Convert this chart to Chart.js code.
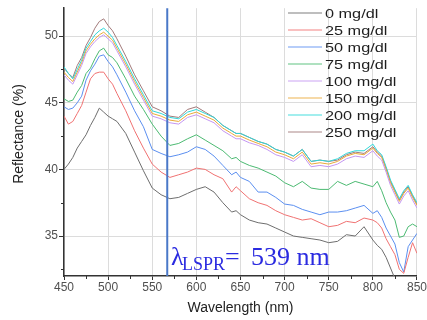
<!DOCTYPE html>
<html>
<head>
<meta charset="utf-8">
<script src="https://cdn.jsdelivr.net/npm/chart.js@4"></script>
<style>
  html, body { margin: 0; padding: 0; background: #fff; }
  #wrap { width: 427px; height: 320px; }
</style>
</head>
<body>
<div id="wrap"><canvas id="chart" width="427" height="320"></canvas></div>
<script>
// Reflectance spectra for different glucose concentrations

// ---- data ----
const wavelengths = [450, 455, 460, 465, 470, 475, 480, 485, 490, 495, 500, 505, 510,
    520, 530, 540, 550, 560, 570, 580, 590, 600, 610, 620, 630, 640,
    645, 650, 660, 670, 680, 690, 700, 710, 720, 730, 740, 750, 760, 770, 780, 790, 800,
    805, 810, 815, 820, 825, 830, 835, 840, 845, 850];

const labels = ['0 mg/dl', '25 mg/dl', '50 mg/dl', '75 mg/dl', '100 mg/dl', '150 mg/dl', '200 mg/dl', '250 mg/dl'];

const r0 = [40.0, 40.4, 40.9, 41.6, 42.1, 42.6, 43.3, 43.9, 44.6, 44.3, 44.0, 43.8, 43.6,
    42.7, 41.3, 39.9, 38.6, 38.1, 37.8, 37.9, 38.2, 38.5, 38.7, 38.3, 37.5, 36.8,
    36.9, 36.6, 36.2, 36.0, 35.9, 35.6, 35.3, 35.0, 34.9, 34.8, 34.7, 34.5, 34.6, 35.1, 35.0, 35.7, 34.7,
    34.3, 34.0, 33.4, 32.6, 31.8, 31.2, 31.0, 31.0, 31.0, 31.0];
const r25 = [44.0, 43.4, 43.6, 44.2, 44.8, 45.8, 46.8, 47.2, 47.3, 47.3, 46.8, 46.4, 45.7,
    44.4, 42.9, 41.6, 40.4, 39.8, 39.4, 39.6, 39.8, 40.1, 40.0, 39.6, 39.3, 38.3,
    38.7, 38.4, 37.8, 37.5, 37.3, 36.9, 36.6, 36.4, 36.2, 36.3, 36.0, 35.7, 35.8, 36.1, 36.0, 36.35, 36.2,
    36.0, 35.6, 34.8, 34.2, 33.6, 32.5, 32.2, 33.4, 34.5, 33.7];
const r50 = [44.7, 44.5, 44.6, 45.0, 45.5, 46.7, 47.4, 47.9, 48.5, 48.6, 48.1, 47.7, 47.1,
    45.8, 44.4, 43.2, 41.5, 41.2, 40.95, 41.1, 41.3, 41.7, 41.5, 41.0, 40.3, 39.6,
    39.8, 39.4, 39.1, 38.3, 38.3, 37.9, 37.4, 37.3, 37.0, 36.8, 36.6, 36.8, 36.8, 36.9, 37.1, 37.3, 36.7,
    36.9, 36.4, 35.6, 35.0, 34.4, 33.0, 32.3, 34.2, 34.7, 35.2];
const r75 = [45.3, 45.1, 45.2, 45.8, 46.3, 47.2, 47.6, 48.3, 48.9, 49.1, 48.6, 48.4, 48.0,
    46.8, 45.5, 44.5, 43.4, 42.5, 41.8, 41.95, 42.3, 42.6, 42.2, 41.8, 41.4, 40.8,
    40.9, 40.6, 40.3, 40.1, 39.8, 39.5, 39.0, 38.7, 39.1, 38.6, 38.5, 38.5, 39.1, 38.8, 39.1, 38.9, 38.7,
    39.1, 38.4, 37.5, 36.8, 36.2, 34.9, 35.0, 35.7, 35.9, 35.7];
const r100 = [47.1, 46.7, 46.4, 47.1, 47.8, 48.7, 49.2, 49.6, 49.9, 50.1, 49.8, 49.5, 48.9,
    47.7, 46.4, 45.2, 44.0, 43.8, 43.5, 43.4, 43.9, 44.1, 43.8, 43.5, 42.9, 42.5,
    42.3, 42.3, 42.0, 41.8, 41.5, 41.1, 40.9, 40.6, 41.1, 40.2, 40.3, 40.2, 40.4, 40.8, 41.0, 40.9, 41.4,
    41.0, 40.7, 39.8, 38.8, 38.1, 37.4, 38.0, 38.4, 37.7, 37.1];
const r150 = [47.3, 46.9, 46.6, 47.3, 48.0, 48.9, 49.4, 49.8, 50.1, 50.3, 50.0, 49.7, 49.1,
    47.9, 46.6, 45.4, 44.2, 44.0, 43.7, 43.6, 44.1, 44.3, 44.0, 43.7, 43.1, 42.7,
    42.5, 42.5, 42.2, 41.95, 41.7, 41.3, 41.1, 40.8, 41.3, 40.4, 40.5, 40.4, 40.6, 41.0, 41.2, 41.1, 41.6,
    41.2, 40.9, 40.0, 39.0, 38.3, 37.6, 38.2, 38.6, 37.9, 37.3];
const r200 = [47.7, 47.2, 46.8, 47.5, 48.2, 49.1, 49.6, 50.1, 50.4, 50.6, 50.3, 49.9, 49.3,
    48.1, 46.8, 45.6, 44.4, 44.2, 43.9, 43.8, 44.3, 44.5, 44.2, 43.9, 43.3, 42.9,
    42.7, 42.7, 42.4, 42.1, 41.9, 41.5, 41.3, 41.0, 41.5, 40.6, 40.7, 40.6, 40.8, 41.2, 41.4, 41.4, 41.9,
    41.4, 41.1, 40.2, 39.2, 38.5, 37.8, 38.4, 38.8, 38.1, 37.5];
const r250 = [47.6, 47.2, 46.9, 47.8, 48.4, 49.3, 49.9, 50.6, 51.1, 51.3, 50.8, 50.4, 49.8,
    48.5, 47.1, 45.9, 44.7, 44.4, 44.0, 43.9, 44.5, 44.7, 44.3, 43.9, 43.3, 42.9,
    42.7, 42.7, 42.4, 42.1, 41.9, 41.5, 41.3, 41.0, 41.5, 40.6, 40.7, 40.6, 40.7, 41.1, 41.3, 41.2, 41.7,
    41.3, 41.0, 40.1, 39.1, 38.4, 37.7, 38.3, 38.7, 38.0, 37.4];

const xTicks = [450, 500, 550, 600, 650, 700, 750, 800, 850];
const yTicks = [35, 40, 45, 50];
const lsprLine = 567;
const lsprValue = '539 nm';

const series = [r0, r25, r50, r75, r100, r150, r200, r250];
const lineColors = ['#6e6e6e', '#f07272', '#5b8ff0', '#4cba72', '#c497f2', '#e9aa3a', '#2fd8d8', '#a27a7a'];

// ---- helpers ----
function toPoints(values) {
    return wavelengths.map((w, i) => ({ x: w, y: values[i] }));
}

// overlay: LSPR line, minor ticks, annotation, y title and legend
const overlay = {
    id: 'overlay',
    afterDatasetsDraw(chart) {
        const ctx = chart.ctx;
        const xs = chart.scales.x, ys = chart.scales.y;
        const area = chart.chartArea;

        // vertical LSPR line
        const lx = xs.getPixelForValue(lsprLine);
        ctx.save();
        ctx.strokeStyle = '#4a78c8';
        ctx.lineWidth = 2;
        ctx.beginPath();
        ctx.moveTo(lx, area.top);
        ctx.lineTo(lx, area.bottom);
        ctx.stroke();

        // minor ticks
        ctx.strokeStyle = '#333';
        ctx.lineWidth = 1;
        ctx.beginPath();
        for (let v = 475; v < 850; v += 50) {
            const px = Math.round(xs.getPixelForValue(v)) + 0.5;
            ctx.moveTo(px, area.bottom);
            ctx.lineTo(px, area.bottom + 3);
        }
        for (let v = 32.5; v < 52; v += 5) {
            const py = Math.round(ys.getPixelForValue(v)) + 0.5;
            ctx.moveTo(area.left, py);
            ctx.lineTo(area.left - 3, py);
        }
        ctx.stroke();

        // annotation
        ctx.fillStyle = '#2b2be0';
        ctx.textBaseline = 'alphabetic';
        ctx.font = '26px "Liberation Serif", "DejaVu Serif", serif';
        ctx.fillText('λ', 171, 265);
        ctx.font = '18px "Liberation Serif", "DejaVu Serif", serif';
        ctx.fillText('LSPR', 182, 270);
        ctx.font = '26px "Liberation Serif", "DejaVu Serif", serif';
        ctx.fillText('=', 225, 265);
        ctx.fillText(lsprValue, 251, 265);

        // y axis title
        ctx.save();
        ctx.translate(19, 134);
        ctx.rotate(-Math.PI / 2);
        ctx.font = '14px "Liberation Sans", Arial, sans-serif';
        ctx.fillStyle = '#222';
        ctx.textAlign = 'center';
        ctx.textBaseline = 'middle';
        ctx.fillText('Reflectance (%)', 0, 0);
        ctx.restore();

        // legend
        ctx.textBaseline = 'middle';
        chart.data.datasets.forEach((ds, i) => {
            const y = 13 + i * 17;
            ctx.strokeStyle = ds.borderColor;
            ctx.globalAlpha = 0.6;
            ctx.lineWidth = 1.5;
            ctx.beginPath();
            ctx.moveTo(288, y);
            ctx.lineTo(322, y);
            ctx.stroke();
            ctx.globalAlpha = 1;
            ctx.save();
            ctx.translate(325, y + 1);
            ctx.scale(1.25, 1);
            ctx.font = '13px "Liberation Sans", Arial, sans-serif';
            ctx.fillStyle = '#1e1e1e';
            ctx.fillText(ds.label, 0, 0);
            ctx.restore();
        });
        ctx.restore();
    }
};

new Chart(document.getElementById('chart'), {
    type: 'line',
    data: {
        datasets: series.map((s, i) => ({
            label: labels[i],
            data: toPoints(s),
            borderColor: lineColors[i],
            borderWidth: 1,
            pointRadius: 0,
            tension: 0,
            fill: false
        }))
    },
    options: {
        responsive: false,
        animation: false,
        layout: { padding: { top: 8, right: 10, left: 0, bottom: 0 } },
        plugins: {
            legend: { display: false },
            tooltip: { enabled: false }
        },
        scales: {
            x: {
                type: 'linear',
                min: 450,
                max: 850,
                afterBuildTicks: s => { s.ticks = xTicks.map(v => ({ value: v })); },
                afterFit: s => { s.height = 44; },
                grid: { color: '#dcdcdc', tickColor: '#333', tickLength: 4 },
                border: { color: '#333', width: 1.5 },
                ticks: {
                    color: '#505050',
                    padding: 0,
                    maxRotation: 0,
                    font: { family: '"Liberation Sans", Arial, sans-serif', size: 12 }
                },
                title: {
                    display: true,
                    text: 'Wavelength (nm)',
                    color: '#222',
                    padding: { top: 0, bottom: 3 },
                    font: { family: '"Liberation Sans", Arial, sans-serif', size: 14 }
                }
            },
            y: {
                min: 32,
                max: 52.1,
                afterBuildTicks: s => { s.ticks = yTicks.map(v => ({ value: v })); },
                afterFit: s => { s.width = 64; },
                grid: { color: '#dcdcdc', tickColor: '#333', tickLength: 5 },
                border: { color: '#333', width: 1.5 },
                ticks: {
                    color: '#505050',
                    padding: 1,
                    font: { family: '"Liberation Sans", Arial, sans-serif', size: 12 }
                },
                title: { display: false }
            }
        }
    },
    plugins: [overlay]
});
</script>
</body>
</html>
